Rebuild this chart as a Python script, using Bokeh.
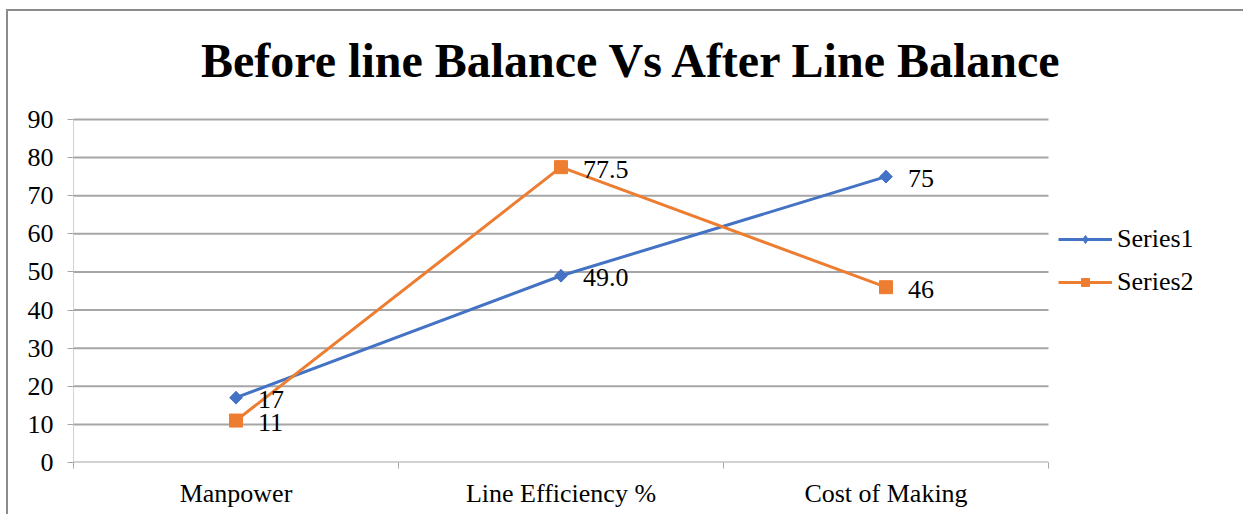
import math
from bokeh.plotting import figure
from bokeh.models import Range1d, FixedTicker, Legend, LegendItem, LabelSet, Label, ColumnDataSource
from bokeh.embed import file_html
from bokeh.resources import INLINE

categories = ["Manpower", "Line Efficiency %", "Cost of Making"]
series1 = [17, 49.0, 75]
series2 = [11, 77.5, 46]
series1_labels = ["17", "49.0", "75"]
series2_labels = ["11", "77.5", "46"]
y_ticks = list(range(0, 100, 10))
title_text = "Before line Balance Vs After Line Balance"

FONT = "Liberation Serif"
BLUE = "#4472C4"
ORANGE = "#ED7D31"
GRID = "#a6a6a6"

# layout (pixels)
W, H = 1237, 505
LEFT, BOTTOM = 65, 54          # axis panels
CAT_PX = 325                   # width of one category band
PLOT_H_PX = 343                # height of the 0..90 plot area
y_max = y_ticks[-1]
frame_w = W - LEFT
frame_h = H - BOTTOM
x_start = -0.5
x_end = x_start + frame_w / CAT_PX
y_end = y_max * frame_h / PLOT_H_PX
n = len(categories)

x = list(range(n))

p = figure(width=W, height=H, output_backend="svg", toolbar_location=None,
           x_range=Range1d(x_start, x_end), y_range=Range1d(0, y_end),
           min_border_left=LEFT, min_border_right=0, min_border_top=0, min_border_bottom=BOTTOM)
p.styles = {"border-left": "2px solid #8c8c8c", "border-top": "2px solid #8c8c8c",
            "margin-top": "9px", "margin-left": "6px"}
p.outline_line_color = None
p.background_fill_color = "white"
p.border_fill_color = "white"
p.xgrid.visible = False
p.ygrid.visible = False

# gridlines of the plot area only
p.segment(x0=[x_start] * len(y_ticks), x1=[n - 0.5] * len(y_ticks), y0=y_ticks, y1=y_ticks,
          line_color=GRID, line_width=2)
# y axis line
p.segment(x0=[x_start], x1=[x_start], y0=[0], y1=[y_max], line_color=GRID, line_width=1)

# x axis
p.xaxis.ticker = FixedTicker(ticks=x, minor_ticks=[i - 0.5 for i in range(n + 1)])
p.xaxis.major_label_overrides = {i: c for i, c in enumerate(categories)}
p.xaxis.major_tick_out = 0
p.xaxis.major_tick_in = 0
p.xaxis.minor_tick_out = 6
p.xaxis.minor_tick_in = 0
p.xaxis.minor_tick_line_color = GRID
p.xaxis.axis_line_color = None
p.xaxis.major_label_text_font = FONT
p.xaxis.major_label_text_font_size = "26px"
p.xaxis.major_label_text_color = "black"
p.xaxis.major_label_standoff = 10

# y axis
p.yaxis.ticker = FixedTicker(ticks=y_ticks)
p.yaxis.major_tick_out = 6
p.yaxis.major_tick_in = 0
p.yaxis.minor_tick_line_color = None
p.yaxis.major_tick_line_color = GRID
p.yaxis.axis_line_color = None
p.yaxis.major_label_text_font = FONT
p.yaxis.major_label_text_font_size = "26px"
p.yaxis.major_label_text_color = "black"
p.yaxis.major_label_standoff = 14

l1 = p.line(x, series1, line_color=BLUE, line_width=3)
d1 = p.scatter(x, series1, marker="diamond", size=12, fill_color=BLUE, line_color=BLUE)
m1 = p.scatter(x, series1, marker="square", angle=math.pi / 4, size=9,
               fill_color=BLUE, line_color=BLUE)
l2 = p.line(x, series2, line_color=ORANGE, line_width=3)
m2 = p.scatter(x, series2, marker="square", size=13, fill_color=ORANGE, line_color=ORANGE)

for vals, labs in ((series1, series1_labels), (series2, series2_labels)):
    src = ColumnDataSource(dict(x=x, y=vals, t=labs))
    p.add_layout(LabelSet(x="x", y="y", text="t", source=src, x_offset=22, y_offset=-2,
                          text_baseline="middle", text_align="left", text_font=FONT,
                          text_font_size="26px", text_color="black"))

# chart title (screen position relative to the plot area)
p.add_layout(Label(x=559, y=PLOT_H_PX + 59, x_units="screen", y_units="screen",
                   text=title_text, text_font=FONT, text_font_size="48px",
                   text_font_style="bold", text_color="black",
                   text_align="center", text_baseline="alphabetic"))

legend = Legend(items=[LegendItem(label="Series1", renderers=[l1, d1]),
                       LegendItem(label="Series2", renderers=[l2, m2])],
                location=(985, 165), orientation="vertical",
                glyph_width=54, glyph_height=20, label_height=20,
                label_text_font=FONT, label_text_font_size="26px", label_standoff=5,
                label_text_color="black",
                spacing=13, padding=0, margin=0,
                border_line_color=None, background_fill_alpha=0)
p.add_layout(legend)

open("out.html", "w").write(file_html(p, INLINE))
